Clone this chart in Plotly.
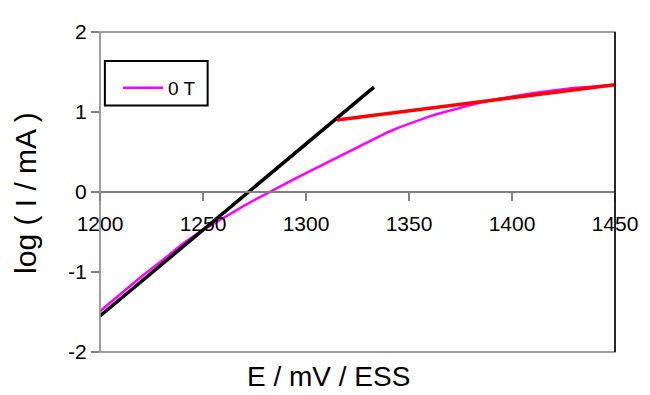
import plotly.graph_objects as go

# Measured polarization curve (0 T)
E_meas = [1200, 1210, 1220, 1230, 1240, 1245, 1250, 1255, 1260, 1265, 1270, 1275,
          1280, 1285, 1290, 1295, 1300, 1305, 1310, 1315, 1320, 1325, 1330, 1335,
          1340, 1345, 1350, 1355, 1360, 1365, 1370, 1375, 1380, 1385, 1390, 1400,
          1410, 1420, 1430, 1440, 1450]
logI_meas = [-1.49, -1.27, -1.06, -0.86, -0.65, -0.56, -0.47, -0.40, -0.32, -0.25, -0.17, -0.10,
             -0.03, 0.04, 0.105, 0.17, 0.235, 0.30, 0.365, 0.43, 0.50, 0.565, 0.63, 0.69,
             0.75, 0.805, 0.855, 0.90, 0.945, 0.985, 1.02, 1.055, 1.09, 1.12, 1.15, 1.195,
             1.235, 1.27, 1.30, 1.32, 1.34]

# Tafel fit lines
E_fit_low = [1200, 1333]
logI_fit_low = [-1.55, 1.31]
E_fit_high = [1315, 1450]
logI_fit_high = [0.90, 1.34]

x_ticks = [1200, 1250, 1300, 1350, 1400, 1450]
y_ticks = [2, 1, 0, -1, -2]
y_tick_text = ["2", "1", "0", "-1", "-2"]

FONT = "Liberation Sans, Arial, sans-serif"

fig = go.Figure()
fig.add_trace(go.Scatter(x=E_meas, y=logI_meas, mode="lines", name="0 T",
                         line=dict(color="#FF00FF", width=2.5)))
fig.add_trace(go.Scatter(x=E_fit_low, y=logI_fit_low, mode="lines", showlegend=False,
                         line=dict(color="#000000", width=3.5)))
fig.add_trace(go.Scatter(x=E_fit_high, y=logI_fit_high, mode="lines", showlegend=False,
                         line=dict(color="#FF0000", width=3.5)))

fig.update_layout(
    width=642, height=387,
    margin=dict(l=92, r=23, t=14, b=43),
    paper_bgcolor="white", plot_bgcolor="white",
    font=dict(family=FONT, color="black"),
    showlegend=True,
    legend=dict(x=0.035, y=0.885, xanchor="left", yanchor="top",
                bgcolor="rgba(0,0,0,0)", borderwidth=0,
                font=dict(size=19, family=FONT, color="black"),
                itemwidth=40),
    xaxis=dict(range=[1200, 1450], tickvals=x_ticks, showgrid=False, zeroline=False,
               anchor="free", position=0.5, showline=True, linecolor="#808080", linewidth=1.5,
               ticks="outside", ticklen=8, tickcolor="#808080", tickwidth=1.5,
               tickfont=dict(size=21, family=FONT, color="black"),
               ticklabelstandoff=5, ticklabeloverflow="allow"),
    yaxis=dict(range=[-2, 2], tickvals=y_ticks, ticktext=y_tick_text, showgrid=False,
               zeroline=False, showline=False,
               ticks="outside", ticklen=8, tickcolor="#808080", tickwidth=1.5,
               tickfont=dict(size=21, family=FONT, color="black")),
    shapes=[
        dict(type="rect", xref="x domain", yref="y domain", x0=0, x1=1, y0=0, y1=1,
             line=dict(color="#808080", width=1.5), layer="above"),
        dict(type="line", xref="x domain", yref="y domain", x0=1, x1=1, y0=0, y1=1,
             line=dict(color="black", width=1.5), layer="above"),
        dict(type="rect", xref="paper", yref="paper", x0=0.0095, x1=0.209, y0=0.770, y1=0.909,
             line=dict(color="black", width=2), fillcolor="rgba(0,0,0,0)", layer="above"),
    ],
    annotations=[
        dict(text="E / mV / ESS", xref="paper", yref="paper", x=0.444, y=-0.077,
             xanchor="center", yanchor="middle", showarrow=False,
             font=dict(size=28, family=FONT, color="black")),
        dict(text="log ( I / mA )", xref="paper", yref="paper", x=-0.145, y=0.498,
             xanchor="center", yanchor="middle", showarrow=False, textangle=-90,
             font=dict(size=30, family=FONT, color="black")),
    ],
)

fig.write_html("out.html")
